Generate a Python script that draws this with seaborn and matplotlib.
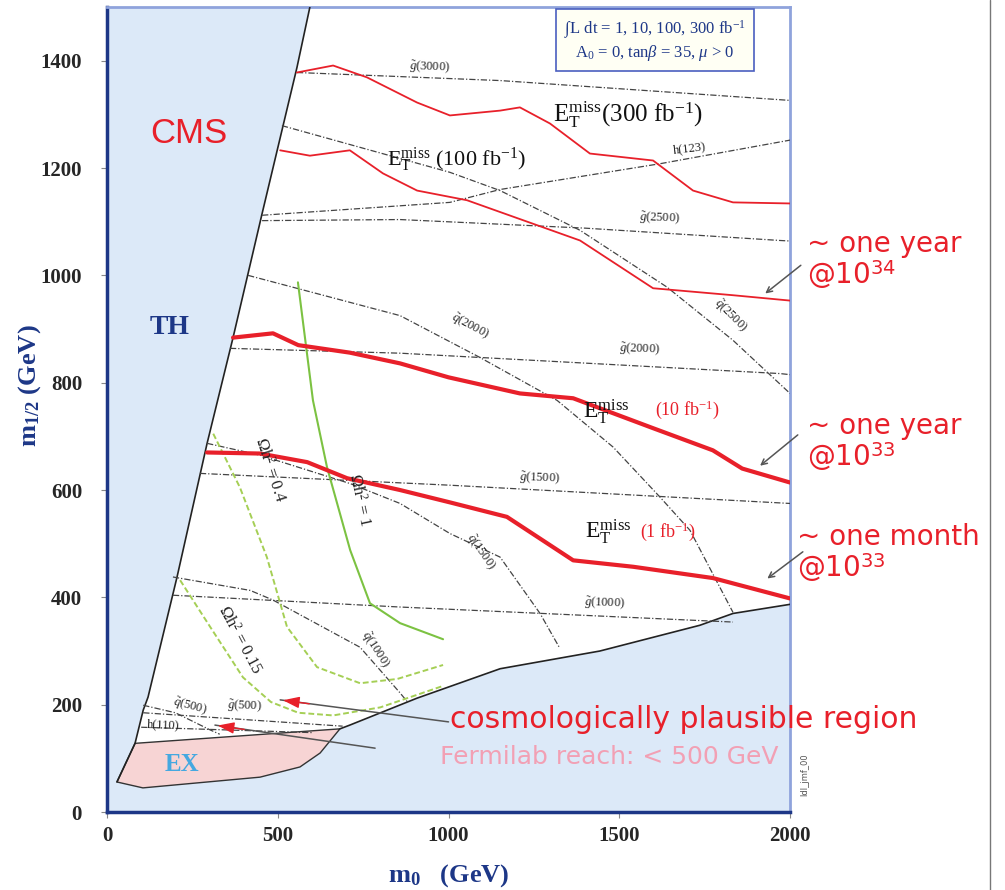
import matplotlib
matplotlib.use('Agg')
import matplotlib.pyplot as plt
import seaborn as sns
from matplotlib.lines import Line2D

# --- region boundaries (m0, m1/2 in GeV) ---
th_x = [594, 556, 454, 369, 293, 205, 120, 106, 82]
th_y = [1500, 1387, 1115, 884, 687, 438, 214, 190, 128]
ex_x = [82, 29, 105, 448, 565, 624, 682]
ex_y = [128, 56, 45, 65, 84, 110, 155]
nb_x = [682, 711, 907, 1151, 1443, 1736, 1833, 2000]
nb_y = [155, 162, 212, 267, 300, 348, 370, 387]

# --- Etmiss reach curves ---
et300_x = [556, 662, 761, 908, 1004, 1151, 1209, 1297, 1414, 1599, 1716, 1833, 2000]
et300_y = [1378, 1391, 1369, 1322, 1298, 1307, 1313, 1283, 1227, 1214, 1158, 1136, 1134]
et100_x = [507, 594, 711, 808, 908, 1054, 1385, 1599, 1833, 2000]
et100_y = [1233, 1223, 1233, 1190, 1158, 1140, 1065, 976, 963, 953]
et10_x = [369, 486, 560, 711, 858, 1000, 1209, 1365, 1600, 1774, 1860, 2000]
et10_y = [884, 892, 870, 856, 836, 810, 780, 771, 715, 674, 640, 614]
et1_x = [293, 448, 586, 703, 858, 1004, 1171, 1365, 1541, 1774, 2000]
et1_y = [670, 668, 652, 622, 600, 577, 550, 469, 457, 436, 398]

# --- gluino mass contours ---
g3000_x = [556, 1151, 2000]
g3000_y = [1378, 1363, 1326]
g2500_x = [454, 858, 1400, 1971, 2000]
g2500_y = [1102, 1104, 1088, 1065, 1064]
g2000_x = [360, 858, 1971, 2000]
g2000_y = [864, 855, 817, 815]
g1500_x = [272, 1004, 2000]
g1500_y = [631, 609, 575]
g1000_x = [193, 858, 1833]
g1000_y = [404, 382, 354]
g500_x = [106, 690]
g500_y = [185, 160]

# --- squark mass contours ---
q2500_x = [512, 1004, 1151, 1385, 1640, 1833, 2000]
q2500_y = [1279, 1192, 1158, 1084, 978, 879, 780]
q2000_x = [413, 858, 1092, 1318, 1482, 1619, 1707, 1833]
q2000_y = [1000, 925, 847, 767, 680, 587, 525, 372]
q1500_x = [293, 448, 712, 858, 1004, 1151, 1268, 1326]
q1500_y = [687, 665, 612, 575, 519, 475, 370, 305]
q1000_x = [193, 419, 486, 741, 858, 880]
q1000_y = [438, 413, 395, 307, 222, 205]
q500_x = [106, 200, 302, 330]
q500_y = [199, 185, 153, 145]

# --- Higgs mass contours ---
h123_x = [454, 1004, 1151, 1619, 2000]
h123_y = [1112, 1136, 1160, 1208, 1252]
h110_x = [100, 600]
h110_y = [158, 148]

# --- relic density contours ---
om1_x = [559, 603, 644, 712, 770, 858, 984]
om1_y = [987, 767, 643, 488, 389, 352, 322]
om04_x = [311, 389, 468, 527, 615, 741, 850, 984]
om04_y = [705, 605, 475, 345, 270, 240, 248, 274]
om015_x = [214, 302, 398, 480, 560, 662, 800, 984]
om015_y = [432, 345, 251, 205, 185, 180, 195, 235]

xticks = [0, 500, 1000, 1500, 2000]
yticks = [0, 200, 400, 600, 800, 1000, 1200, 1400]

RED = '#e8202a'
NAVY = '#1d3787'
GRAY = '#444444'
SERIF = ['Liberation Serif', 'DejaVu Serif']
SANS = ['DejaVu Sans']

sns.set_style('ticks')
plt.rcParams['font.family'] = SERIF
plt.rcParams['mathtext.fontset'] = 'custom'
plt.rcParams['mathtext.rm'] = 'Liberation Serif'
plt.rcParams['mathtext.it'] = 'Liberation Serif:italic'
plt.rcParams['mathtext.bf'] = 'Liberation Serif:bold'
plt.rcParams['mathtext.sf'] = 'DejaVu Sans'

fig = plt.figure(figsize=(10.05, 8.9), dpi=100)
ax = fig.add_axes([0.1065, 0.0876, 0.6796, 0.9045])
ax.set_facecolor('#dce9f8')

# allowed (white) region
allowed_x = th_x + ex_x[:1] + nb_x + [2000]
allowed_y = th_y + ex_y[:1] + nb_y + [1500]
ax.fill(allowed_x, allowed_y, color='white', zorder=1)
ax.fill(ex_x, ex_y, facecolor='#f7d4d4', edgecolor='#333333', lw=1, zorder=2)
ax.plot(th_x + [29], th_y + [56], color='#222222', lw=1.2, zorder=3)
ax.plot(nb_x, nb_y, color='#222222', lw=1.2, zorder=3)


def curve(x, y, **kw):
    sns.lineplot(x=x, y=y, sort=False, estimator=None, ax=ax, legend=False, **kw)


dashdot = (0, (5, 1.6, 1, 1.6))
for cx, cy in [(g3000_x, g3000_y), (g2500_x, g2500_y), (g2000_x, g2000_y),
               (g1500_x, g1500_y), (g1000_x, g1000_y), (g500_x, g500_y),
               (q2500_x, q2500_y), (q2000_x, q2000_y), (q1500_x, q1500_y),
               (q1000_x, q1000_y), (q500_x, q500_y), (h123_x, h123_y),
               (h110_x, h110_y)]:
    curve(cx, cy, color=GRAY, lw=0.9, linestyle=dashdot, zorder=4)

curve(om1_x, om1_y, color='#7cc242', lw=1.5, zorder=5)
curve(om04_x, om04_y, color='#a5cf55', lw=1.4, linestyle=(0, (3, 1.5)), zorder=5)
curve(om015_x, om015_y, color='#a5cf55', lw=1.4, linestyle=(0, (3, 1.5)), zorder=5)

curve(et300_x, et300_y, color=RED, lw=1.3, zorder=6)
curve(et100_x, et100_y, color=RED, lw=1.3, zorder=6)
curve(et10_x, et10_y, color=RED, lw=3, zorder=6)
curve(et1_x, et1_y, color=RED, lw=3, zorder=6)

# contour labels
lab = dict(fontsize=9, color='#222222', zorder=7, ha='center', va='center')
ax.text(946, 1388, r'$\tilde{g}$(3000)', rotation=-2, **lab)
ax.text(1619, 1106, r'$\tilde{g}$(2500)', rotation=-2, **lab)
ax.text(1561, 862, r'$\tilde{g}$(2000)', rotation=-2, **lab)
ax.text(1268, 622, r'$\tilde{g}$(1500)', rotation=-2, **lab)
ax.text(1458, 388, r'$\tilde{g}$(1000)', rotation=-2, **lab)
ax.text(404, 196, r'$\tilde{g}$(500)', rotation=-2, **lab)
ax.text(1824, 925, r'$\tilde{q}$(2500)', rotation=-45, **lab)
ax.text(1063, 905, r'$\tilde{q}$(2000)', rotation=-28, **lab)
ax.text(1092, 485, r'$\tilde{q}$(1500)', rotation=-55, **lab)
ax.text(785, 302, r'$\tilde{q}$(1000)', rotation=-57, **lab)
ax.text(243, 197, r'$\tilde{q}$(500)', rotation=-15, **lab)
ax.text(1707, 1236, 'h(123)', rotation=7, **lab)
ax.text(164, 162, 'h(110)', rotation=-2, **lab)
ax.text(741, 581, r'$\Omega$h$^2$ = 1', rotation=-78, fontsize=12, color='#222222',
        ha='center', va='center', zorder=7)
ax.text(477, 637, r'$\Omega$h$^2$ = 0.4', rotation=-72, fontsize=12, color='#222222',
        ha='center', va='center', zorder=7)
ax.text(389, 320, r'$\Omega$h$^2$ = 0.15', rotation=-62, fontsize=12, color='#222222',
        ha='center', va='center', zorder=7)

# Etmiss labels
et = r'$\mathrm{E}_\mathrm{T}^\mathrm{miss}$'
ax.text(1305, 1285, et + '(300 fb$^{-1}$)', fontsize=18, color='#111111', zorder=7)
ax.text(820, 1205, et + ' (100 fb$^{-1}$)', fontsize=16, color='#111111', zorder=7)
ax.text(1395, 735, et, fontsize=17, color='#111111', zorder=7)
ax.text(1605, 750, '(10 fb$^{-1}$)', fontsize=13, color=RED, va='center', zorder=7)
ax.text(1400, 510, et, fontsize=17, color='#111111', zorder=7)
ax.text(1560, 523, '(1 fb$^{-1}$)', fontsize=13, color=RED, va='center', zorder=7)

# region labels
ax.text(126, 1264, 'CMS', fontsize=25, color=RED, family=['Liberation Sans'],
        va='center', zorder=7)
ax.text(125, 903, 'TH', fontsize=20, color=NAVY, fontweight='bold', va='center', zorder=7)
ax.text(220, 88, 'EX', fontsize=18, color='#45a8e0', fontweight='bold',
        ha='center', va='center', zorder=7)

# parameter box
ax.text(1605, 1437, r'$\int$L dt = 1, 10, 100, 300 fb$^{-1}$' + '\n' +
        r'A$_0$ = 0, tan$\beta$ = 35, $\mu$ > 0',
        fontsize=12, color=NAVY, ha='center', va='center', linespacing=1.1, zorder=8,
        bbox=dict(boxstyle='square,pad=0.5', facecolor='#fffff4', edgecolor='#4a5fc0', lw=1.2))

# luminosity annotations outside the frame
ann = dict(fontsize=20, color=RED, family=SANS, zorder=8, clip_on=False, va='top',
           linespacing=1.0)
ax.text(2050, 1085, '~ one year\n@10$^{\\mathsf{34}}$', **ann)
ax.text(2050, 745, '~ one year\n@10$^{\\mathsf{33}}$', **ann)
ax.text(2020, 538, '~ one month\n@10$^{\\mathsf{33}}$', **ann)
arr = dict(arrowstyle='->', color='#555555', lw=1.1)
ax.annotate('', xy=(1921, 963), xytext=(2038, 1022), arrowprops=arr, annotation_clip=False)
ax.annotate('', xy=(1906, 642), xytext=(2029, 706), arrowprops=arr, annotation_clip=False)
ax.annotate('', xy=(1927, 432), xytext=(2044, 488), arrowprops=arr, annotation_clip=False)

# cosmology / Fermilab annotations
ax.plot([1000, 507], [168, 209], color='#555555', lw=1.1, zorder=8)
ax.plot([785, 316], [119, 162], color='#555555', lw=1.1, zorder=8)
head = dict(arrowstyle='-|>,head_length=1.0,head_width=0.35', color=RED, lw=1)
ax.annotate('', xy=(507, 209), xytext=(600, 201), arrowprops=head, zorder=9)
ax.annotate('', xy=(316, 162), xytext=(410, 153), arrowprops=head, zorder=9)
ax.text(1005, 172, 'cosmologically plausible region', fontsize=21.5, color=RED,
        family=SANS, va='center', clip_on=False, zorder=8)
ax.text(975, 102, 'Fermilab reach: < 500 GeV', fontsize=18, color='#f2a0b4',
        family=SANS, va='center', clip_on=False, zorder=8)
ax.text(2030, 70, 'ldl_jmf_00', fontsize=6, rotation=90, color='#555555',
        family=SANS, va='center', clip_on=False)

# axes styling
ax.set_xlim(0, 2000)
ax.set_ylim(0, 1500)
ax.set_xticks(xticks)
ax.set_yticks(yticks)
ax.tick_params(axis='both', direction='out', length=4, color='#888888', labelsize=15)
ax.tick_params(axis='y', pad=14)
ax.tick_params(axis='x', pad=6)
for t in ax.get_xticklabels() + ax.get_yticklabels():
    t.set_fontweight('bold')
for s in ['left', 'bottom']:
    ax.spines[s].set_color(NAVY)
    ax.spines[s].set_linewidth(2.5)
for s in ['top', 'right']:
    ax.spines[s].set_color('#8fa3dc')
    ax.spines[s].set_linewidth(2)
ax.set_xlabel(r'm$_\mathbf{0}$   (GeV)', fontsize=19, fontweight='bold', color=NAVY, labelpad=12)
ax.set_ylabel(r'm$_\mathbf{1/2}$ (GeV)', fontsize=19, fontweight='bold', color=NAVY)
ax.yaxis.set_label_coords(-0.094, 0.53)

fig.add_artist(Line2D([990 / 1005, 990 / 1005], [0, 1], color='#777777', lw=1))

fig.savefig('out.png', dpi=100)
